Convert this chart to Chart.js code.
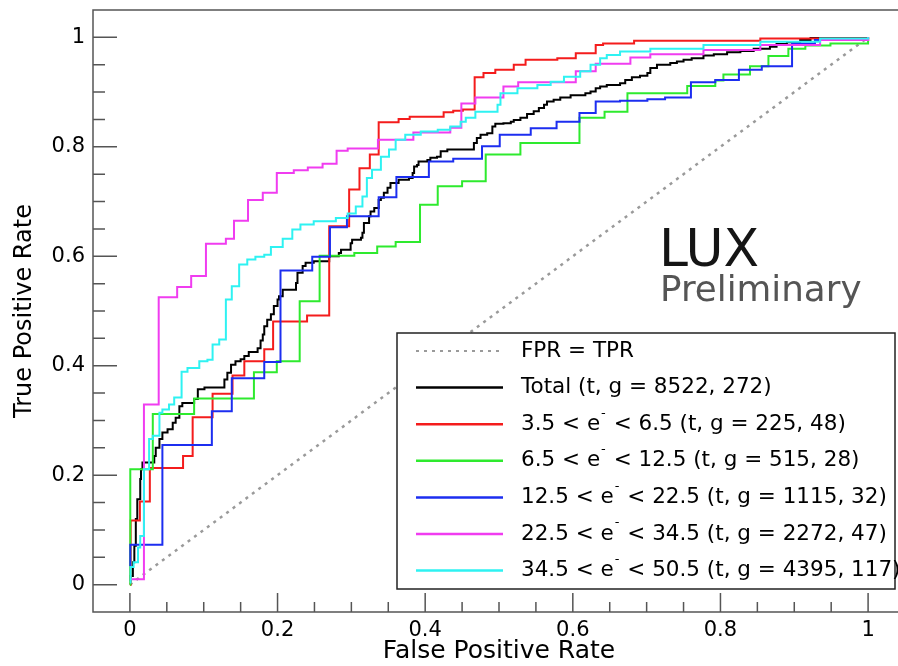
<!DOCTYPE html>
<html lang="en">
<head>
<meta charset="utf-8" />
<title>ROC curves</title>
<style>
  html, body { margin: 0; padding: 0; background: #fff; overflow: hidden; }
  #wrap { width: 910px; height: 666px; }
</style>
</head>
<body>
<div id="wrap"><canvas id="rocChart"></canvas></div>

<script src="https://cdn.jsdelivr.net/npm/chart.js"></script>
<script>
// ROC points: [false positive rate, true positive rate]
// each point is the top of a vertical riser (drawn as steps)
const rocDiagonal = [[0, 0], [1, 1]];

const rocTotal = [[0,0.007],[0.001,0.016],[0.004,0.041],[0.006,0.071],[0.008,0.120],[0.010,0.156],[0.014,0.193],
  [0.015,0.211],[0.017,0.223],[0.033,0.235],[0.035,0.250],[0.040,0.266],[0.044,0.278],[0.051,0.284],[0.058,0.296],
  [0.062,0.305],[0.067,0.326],[0.071,0.332],[0.087,0.339],[0.092,0.357],[0.101,0.360],[0.128,0.375],[0.132,0.387],
  [0.137,0.402],[0.143,0.408],[0.150,0.412],[0.155,0.418],[0.161,0.425],[0.173,0.432],[0.177,0.446],[0.180,0.457],
  [0.182,0.472],[0.186,0.484],[0.191,0.494],[0.195,0.509],[0.200,0.521],[0.202,0.527],[0.207,0.539],[0.225,0.551],
  [0.227,0.570],[0.234,0.582],[0.238,0.588],[0.249,0.591],[0.270,0.600],[0.283,0.606],[0.286,0.612],[0.299,0.624],
  [0.301,0.630],[0.313,0.634],[0.315,0.643],[0.317,0.661],[0.324,0.673],[0.326,0.682],[0.331,0.688],[0.337,0.703],
  [0.340,0.707],[0.344,0.716],[0.349,0.725],[0.353,0.734],[0.364,0.740],[0.378,0.743],[0.383,0.752],[0.385,0.764],
  [0.389,0.767],[0.391,0.773],[0.403,0.776],[0.407,0.780],[0.416,0.782],[0.421,0.792],[0.430,0.795],[0.466,0.807],
  [0.470,0.816],[0.475,0.822],[0.484,0.825],[0.491,0.837],[0.495,0.842],[0.506,0.843],[0.516,0.846],[0.520,0.849],
  [0.529,0.853],[0.538,0.860],[0.547,0.865],[0.554,0.871],[0.561,0.877],[0.565,0.883],[0.574,0.886],[0.583,0.890],
  [0.597,0.894],[0.617,0.898],[0.624,0.901],[0.631,0.907],[0.637,0.910],[0.646,0.913],[0.664,0.916],[0.671,0.922],
  [0.680,0.927],[0.691,0.930],[0.701,0.935],[0.705,0.944],[0.714,0.950],[0.732,0.953],[0.741,0.956],[0.750,0.959],
  [0.761,0.962],[0.777,0.967],[0.791,0.969],[0.809,0.973],[0.827,0.975],[0.845,0.979],[0.867,0.983],[0.876,0.988],
  [0.890,0.991],[0.908,0.995],[0.922,0.999],[1,1]];

const roc3to6 = [[0,0],[0.001,0.117],[0.0135,0.152],[0.027,0.213],[0.072,0.235],[0.085,0.306],[0.112,0.349],
  [0.139,0.382],[0.155,0.408],[0.182,0.430],[0.194,0.481],[0.240,0.492],[0.270,0.655],[0.297,0.722],[0.311,0.761],
  [0.325,0.786],[0.337,0.845],[0.364,0.851],[0.379,0.855],[0.425,0.863],[0.438,0.866],[0.451,0.868],[0.467,0.927],
  [0.479,0.935],[0.495,0.941],[0.520,0.950],[0.536,0.959],[0.579,0.962],[0.604,0.971],[0.631,0.986],[0.641,0.989],
  [0.683,0.994],[0.854,0.998],[1,1]];

const roc6to12 = [[0,0],[0.0005,0.211],[0.031,0.312],[0.087,0.340],[0.168,0.388],[0.199,0.408],[0.230,0.518],
  [0.257,0.601],[0.304,0.606],[0.335,0.618],[0.360,0.626],[0.393,0.694],[0.417,0.728],[0.450,0.737],[0.482,0.786],
  [0.529,0.807],[0.609,0.853],[0.643,0.864],[0.674,0.898],[0.755,0.911],[0.793,0.921],[0.804,0.932],[0.840,0.947],
  [0.865,0.966],[0.892,0.979],[0.915,0.985],[0.949,0.989],[1,1]];

const roc12to22 = [[0,0.034],[0.0005,0.073],[0.044,0.255],[0.111,0.317],[0.138,0.377],[0.182,0.407],[0.204,0.574],
  [0.247,0.599],[0.271,0.653],[0.294,0.673],[0.337,0.708],[0.361,0.745],[0.405,0.773],[0.438,0.778],[0.477,0.801],
  [0.501,0.822],[0.543,0.834],[0.578,0.846],[0.609,0.862],[0.631,0.883],[0.664,0.884],[0.701,0.887],[0.725,0.890],
  [0.760,0.918],[0.793,0.922],[0.825,0.941],[0.856,0.947],[0.897,0.989],[0.928,0.995],[1,1]];

const roc22to34 = [[0,0.01],[0.019,0.329],[0.039,0.525],[0.064,0.544],[0.083,0.564],[0.103,0.623],[0.130,0.632],
  [0.141,0.665],[0.160,0.703],[0.180,0.716],[0.199,0.752],[0.222,0.757],[0.241,0.762],[0.261,0.769],[0.280,0.793],
  [0.295,0.797],[0.336,0.813],[0.384,0.826],[0.434,0.835],[0.449,0.879],[0.468,0.890],[0.506,0.910],[0.526,0.918],
  [0.604,0.938],[0.631,0.952],[0.678,0.963],[0.705,0.969],[0.777,0.977],[0.854,0.986],[0.935,0.995],[1,1]];

const roc34to50 = [[0,0.004],[0.001,0.032],[0.005,0.041],[0.011,0.068],[0.014,0.089],[0.019,0.211],[0.026,0.266],
  [0.031,0.272],[0.040,0.314],[0.044,0.320],[0.053,0.329],[0.060,0.342],[0.070,0.389],[0.078,0.396],[0.094,0.408],
  [0.105,0.411],[0.112,0.439],[0.121,0.448],[0.130,0.521],[0.138,0.545],[0.148,0.585],[0.159,0.594],[0.170,0.599],
  [0.182,0.603],[0.191,0.617],[0.207,0.632],[0.220,0.649],[0.231,0.658],[0.249,0.664],[0.279,0.670],[0.295,0.678],
  [0.306,0.691],[0.315,0.709],[0.321,0.743],[0.328,0.758],[0.340,0.782],[0.351,0.795],[0.360,0.813],[0.373,0.822],
  [0.394,0.828],[0.417,0.831],[0.434,0.837],[0.448,0.846],[0.455,0.853],[0.468,0.864],[0.498,0.877],[0.502,0.898],
  [0.525,0.907],[0.552,0.913],[0.570,0.919],[0.588,0.928],[0.610,0.938],[0.624,0.950],[0.637,0.962],[0.646,0.968],
  [0.664,0.974],[0.705,0.979],[0.777,0.986],[0.854,0.992],[0.935,0.998],[1,1]];

const seriesList = [rocTotal, roc3to6, roc6to12, roc12to22, roc22to34, roc34to50];
const seriesColors = ['#000000', '#f41c1c', '#2eea2e', '#1c2ef0', '#f03cf0', '#2ef2f2'];

// legend text, "^-" marks the superscript minus on e
const legendText = [
  'FPR = TPR',
  'Total (t, g = 8522, 272)',
  '3.5 < e^- < 6.5 (t, g = 225, 48)',
  '6.5 < e^- < 12.5 (t, g = 515, 28)',
  '12.5 < e^- < 22.5 (t, g = 1115, 32)',
  '22.5 < e^- < 34.5 (t, g = 2272, 47)',
  '34.5 < e^- < 50.5 (t, g = 4395, 117)'
];

const tickValues = [0, 0.2, 0.4, 0.6, 0.8, 1];
const tickLabels = ['0', '0.2', '0.4', '0.6', '0.8', '1'];

const FONT = 'DejaVu Sans';
const diagColor = '#9a9a9a';

function toPoints(arr) {
    return arr.map(p => ({ x: p[0], y: p[1] }));
}

// frame, inward ROOT style ticks, legend box and the LUX label
const rocDecor = {
    id: 'rocDecor',
    afterDatasetsDraw(chart) {
        const ctx = chart.ctx;
        const area = chart.chartArea;
        const xs = chart.scales.x, ys = chart.scales.y;

        ctx.save();
        ctx.strokeStyle = '#555';
        ctx.lineWidth = 1.5;
        ctx.strokeRect(area.left, area.top, area.right - area.left, area.bottom - area.top);

        ctx.beginPath();
        for (let i = -1; i <= 21; i++) {
            const v = i * 0.05;
            const major = i % 4 === 0;
            const px = xs.getPixelForValue(v);
            if (px > area.left + 1 && px < area.right - 1) {
                ctx.moveTo(px, area.bottom);
                ctx.lineTo(px, area.bottom - (major ? 19 : 10));
            }
            const py = ys.getPixelForValue(v);
            if (py > area.top + 1 && py < area.bottom - 1) {
                ctx.moveTo(area.left, py);
                ctx.lineTo(area.left + (major ? 24 : 12), py);
            }
        }
        ctx.stroke();

        // legend
        const lx = 397, ly = 333, lw = 498, lh = 256;
        ctx.fillStyle = '#fff';
        ctx.fillRect(lx, ly, lw, lh);
        ctx.strokeStyle = '#222';
        ctx.lineWidth = 1.5;
        ctx.strokeRect(lx, ly, lw, lh);

        const ds = chart.data.datasets;
        legendText.forEach((txt, i) => {
            const cy = ly + 18 + i * 36.6;
            const d = ds[i];
            ctx.beginPath();
            ctx.strokeStyle = d.borderColor;
            ctx.lineWidth = i === 0 ? 2 : 2.5;
            ctx.setLineDash(d.borderDash || []);
            ctx.moveTo(416, cy);
            ctx.lineTo(503, cy);
            ctx.stroke();
            ctx.setLineDash([]);

            ctx.fillStyle = '#000';
            ctx.textBaseline = 'middle';
            ctx.textAlign = 'left';
            const parts = txt.split('^-');
            let x = 521;
            ctx.font = '21.5px "' + FONT + '"';
            ctx.fillText(parts[0], x, cy);
            if (parts.length > 1) {
                x += ctx.measureText(parts[0]).width;
                ctx.font = '13px "' + FONT + '"';
                ctx.fillText('-', x + 1, cy - 11);
                x += ctx.measureText('-').width + 2;
                ctx.font = '21.5px "' + FONT + '"';
                ctx.fillText(parts[1], x, cy);
            }
        });

        ctx.textBaseline = 'alphabetic';
        ctx.fillStyle = '#151515';
        ctx.font = '52px "' + FONT + '"';
        ctx.fillText('LUX', 659, 266);
        ctx.fillStyle = '#555';
        ctx.font = '35.7px "' + FONT + '"';
        ctx.fillText('Preliminary', 660, 301);
        ctx.restore();
    }
};

const datasets = [{
    label: legendText[0],
    data: toPoints(rocDiagonal),
    borderColor: diagColor,
    borderWidth: 2.5,
    borderDash: [3, 5],
    stepped: false,
    order: 6
}];
seriesList.forEach((s, i) => {
    datasets.push({
        label: legendText[i + 1],
        data: toPoints(s),
        borderColor: seriesColors[i],
        borderWidth: 2,
        stepped: true,
        order: 5 - i
    });
});

const tickFont = { family: FONT, size: 21 };

new Chart(document.getElementById('rocChart').getContext('2d'), {
    type: 'line',
    data: { datasets: datasets },
    options: {
        animation: false,
        responsive: true,
        maintainAspectRatio: false,
        layout: { padding: { left: 0, right: 5, top: 10, bottom: 0 } },
        elements: { point: { radius: 0 }, line: { tension: 0 } },
        plugins: { legend: { display: false }, tooltip: { enabled: false } },
        scales: {
            x: {
                type: 'linear',
                min: -0.05,
                max: 1.05,
                afterBuildTicks: s => { s.ticks = tickValues.map(v => ({ value: v })); },
                afterFit: s => { s.height = 54; s.paddingLeft = 0; s.paddingRight = 0; },
                ticks: {
                    callback: (v, i) => tickLabels[i],
                    font: tickFont, color: '#000', padding: 6,
                    maxRotation: 0, autoSkip: false
                },
                grid: { display: false, drawTicks: false },
                border: { display: false },
                title: {
                    display: true, text: 'False Positive Rate',
                    font: { family: FONT, size: 25 }, color: '#000', padding: { top: 0, bottom: 0 }
                }
            },
            y: {
                type: 'linear',
                min: -0.05,
                max: 1.05,
                afterBuildTicks: s => { s.ticks = tickValues.map(v => ({ value: v })); },
                afterFit: s => { s.width = 93; s.paddingTop = 0; s.paddingBottom = 0; },
                ticks: {
                    callback: (v, i) => tickLabels[i],
                    font: tickFont, color: '#000', padding: 8
                },
                grid: { display: false, drawTicks: false },
                border: { display: false },
                title: {
                    display: true, text: 'True Positive Rate',
                    font: { family: FONT, size: 24 }, color: '#000', padding: { top: 10, bottom: 0 }
                }
            }
        }
    },
    plugins: [rocDecor]
});
</script>
</body>
</html>
